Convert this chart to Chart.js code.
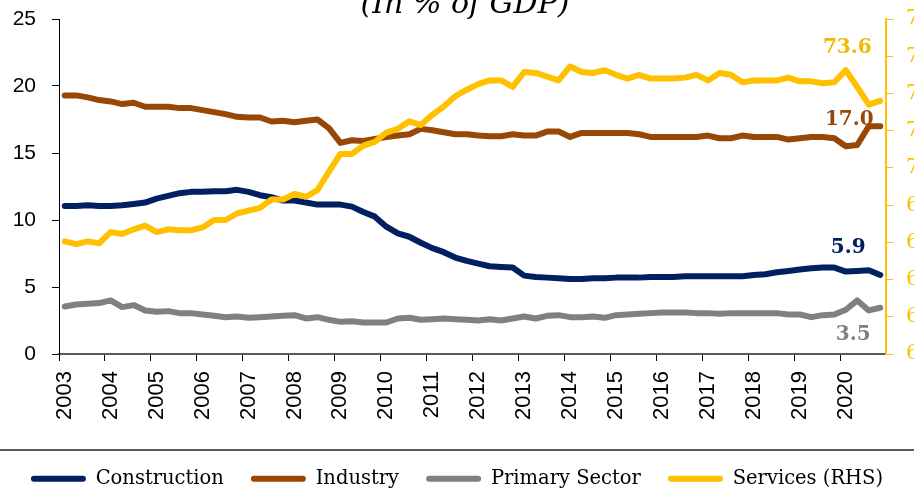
<!DOCTYPE html>
<html>
<head>
<meta charset="utf-8">
<script src="https://cdn.jsdelivr.net/npm/chart.js@4.4.1/dist/chart.umd.min.js"></script>
<style>
  html, body { margin: 0; padding: 0; background: #fff; overflow: hidden; }
  #wrap { position: relative; width: 914px; height: 495px; overflow: hidden; }
  #title { position: absolute; left: 0; top: -12px; width: 930px; text-align: center;
           font: italic 30px 'DejaVu Serif', serif; line-height: 1; color: #000; }
  canvas { position: absolute; left: 0; top: 0; }
</style>
</head>
<body>
<div id="wrap">
  <canvas id="chart" width="914" height="495"></canvas>
  <div id="title">(In % of GDP)</div>
</div>
<script>
// Années et trimestres (données trimestrielles 2003-2020)
const years = [2003, 2004, 2005, 2006, 2007, 2008, 2009, 2010, 2011, 2012,
               2013, 2014, 2015, 2016, 2017, 2018, 2019, 2020];
const quarters = ['Q1', 'Q2', 'Q3', 'Q4'];
const categories = years.flatMap(y => quarters.map(q => y + ' ' + q));
const yearTicks = years.map(String);

// Séries (% du PIB)
const construction = [
  11.05, 11.05, 11.1, 11.05, 11.05, 11.1, 11.2, 11.3, 11.6, 11.8,
  12.0, 12.1, 12.1, 12.15, 12.15, 12.25, 12.1, 11.85, 11.7, 11.45,
  11.45, 11.3, 11.15, 11.15, 11.15, 11.0, 10.6, 10.25, 9.5, 9.0,
  8.75, 8.3, 7.9, 7.6, 7.2, 6.95, 6.75, 6.55,
  6.5, 6.45, 5.85, 5.75, 5.7, 5.65, 5.6, 5.6, 5.65, 5.65,
  5.7, 5.7, 5.7, 5.75, 5.75, 5.75, 5.8, 5.8, 5.8, 5.8,
  5.8, 5.8, 5.9, 5.95, 6.1, 6.2, 6.3, 6.4, 6.45, 6.45,
  6.15, 6.2, 6.25, 5.9
];
const industry = [
  19.3, 19.3, 19.15, 18.95, 18.85, 18.65, 18.75, 18.45, 18.45, 18.45,
  18.35, 18.35, 18.2, 18.05, 17.9, 17.7, 17.65, 17.65, 17.35, 17.4,
  17.3, 17.4, 17.5, 16.85, 15.75, 15.95, 15.9, 16.05, 16.2, 16.3,
  16.4, 16.8, 16.7, 16.55, 16.4, 16.4, 16.3, 16.25,
  16.25, 16.4, 16.3, 16.3, 16.6, 16.6, 16.2, 16.5, 16.5, 16.5,
  16.5, 16.5, 16.4, 16.2, 16.2, 16.2, 16.2, 16.2, 16.3, 16.1,
  16.1, 16.3, 16.2, 16.2, 16.2, 16.0, 16.1, 16.2, 16.2, 16.1,
  15.5, 15.6, 17.0, 17.0
];
const primary = [
  3.55, 3.7, 3.75, 3.8, 4.0, 3.5, 3.65, 3.25, 3.15, 3.2,
  3.05, 3.05, 2.95, 2.85, 2.75, 2.8, 2.7, 2.75, 2.8, 2.85,
  2.9, 2.65, 2.75, 2.55, 2.4, 2.45, 2.35, 2.35, 2.35, 2.65,
  2.7, 2.55, 2.6, 2.65, 2.6, 2.55, 2.5, 2.6,
  2.5, 2.65, 2.8, 2.65, 2.85, 2.9, 2.75, 2.75, 2.8, 2.7,
  2.9, 2.95, 3.0, 3.05, 3.1, 3.1, 3.1, 3.05, 3.05, 3.0,
  3.05, 3.05, 3.05, 3.05, 3.05, 2.95, 2.95, 2.75, 2.9, 2.95,
  3.3, 4.0, 3.25, 3.45
];
const services = [
  66.05, 65.9, 66.05, 65.95, 66.55, 66.45, 66.7, 66.9, 66.55, 66.7,
  66.65, 66.65, 66.8, 67.2, 67.2, 67.55, 67.7, 67.85, 68.3, 68.3,
  68.6, 68.45, 68.8, 69.8, 70.75, 70.75, 71.2, 71.4, 71.9, 72.1,
  72.5, 72.3, 72.85, 73.3, 73.85, 74.2, 74.5, 74.7,
  74.7, 74.35, 75.15, 75.1, 74.9, 74.7, 75.45, 75.15, 75.1, 75.25,
  75.0, 74.8, 75.0, 74.8, 74.8, 74.8, 74.85, 75.0, 74.7, 75.1,
  75.0, 74.6, 74.7, 74.7, 74.7, 74.85, 74.65, 74.65, 74.55, 74.6,
  75.25, 74.35, 73.4, 73.6
];

const seriesNames = ['Construction', 'Industry', 'Primary Sector', 'Services (RHS)'];
const colors = ['#002060', '#974706', '#808080', '#FFC000'];
const labelColors = ['#002060', '#974706', '#808080', '#F5B800'];
// décalage des étiquettes de fin de série (x, y)
const labelOffsets = [[-32, -27], [-31, -6], [-27, 27], [-33, -53]];

// étiquettes de la dernière valeur
const endLabels = {
  id: 'endLabels',
  beforeDatasetsDraw(chart) {
    const ctx = chart.ctx;
    ctx.save();
    ctx.font = 'bold 20px "DejaVu Serif", serif';
    ctx.textAlign = 'center';
    ctx.textBaseline = 'middle';
    chart.data.datasets.forEach((ds, i) => {
      const pts = chart.getDatasetMeta(i).data;
      const p = pts[pts.length - 1];
      ctx.fillStyle = labelColors[i];
      ctx.fillText(ds.data[ds.data.length - 1].toFixed(1), p.x + labelOffsets[i][0], p.y + labelOffsets[i][1]);
    });
    ctx.restore();
  }
};

// trait horizontal au-dessus de la légende
const legendRule = {
  id: 'legendRule',
  afterDraw(chart) {
    const ctx = chart.ctx;
    ctx.save();
    ctx.strokeStyle = '#5a5a5a';
    ctx.lineWidth = 2;
    ctx.beginPath();
    ctx.moveTo(0, 450);
    ctx.lineTo(chart.width, 450);
    ctx.stroke();
    ctx.restore();
  }
};

// largeur / hauteur fixes des axes
const fixAxis = size => s => {
  if (s.isHorizontal()) { s.height = size; s.paddingLeft = 0; s.paddingRight = 0; }
  else { s.width = size; s.paddingTop = 0; s.paddingBottom = 0; }
};

const serieData = [construction, industry, primary, services];

new Chart(document.getElementById('chart'), {
  type: 'line',
  data: {
    labels: categories,
    datasets: serieData.map((d, i) => ({
      label: seriesNames[i],
      data: d,
      borderColor: colors[i],
      backgroundColor: colors[i],
      borderWidth: 6,
      pointRadius: 0,
      tension: 0,
      borderJoinStyle: 'round',
      borderCapStyle: 'round',
      yAxisID: i === 3 ? 'y1' : 'y',
      order: 4 - i
    }))
  },
  options: {
    responsive: false,
    animation: false,
    layout: { padding: { top: 19, left: 0, right: 0, bottom: 0 } },
    plugins: {
      title: { display: false },
      tooltip: { enabled: false },
      legend: {
        position: 'bottom',
        maxHeight: 53,
        labels: {
          boxWidth: 55,
          boxHeight: 6,
          useBorderRadius: true,
          borderRadius: 3,
          padding: 27,
          color: '#000',
          font: { family: '"DejaVu Serif", serif', size: 19.5 },
          generateLabels: chart => chart.data.datasets.map((ds, i) => ({
            text: ds.label,
            fillStyle: colors[i],
            strokeStyle: colors[i],
            lineWidth: 0,
            borderRadius: 3,
            datasetIndex: i,
            hidden: false
          }))
        }
      }
    },
    scales: {
      x: {
        offset: true,
        afterFit: fixAxis(88),
        border: { color: '#5a5a5a', width: 2 },
        grid: {
          offset: true,
          drawOnChartArea: false,
          tickLength: 7,
          color: c => (c.index % 4 === 0 ? '#000' : 'rgba(0,0,0,0)')
        },
        ticks: {
          autoSkip: false,
          minRotation: 90,
          maxRotation: 90,
          padding: 10,
          color: '#000',
          font: { family: '"Liberation Sans", Arial, sans-serif', size: 22 },
          callback: (v, i) => (i % 4 === 0 ? yearTicks[i / 4] : '')
        }
      },
      y: {
        position: 'left',
        min: 0,
        max: 25,
        afterFit: fixAxis(59),
        border: { color: '#000', width: 1 },
        grid: { drawOnChartArea: false, tickLength: 7, color: '#000' },
        ticks: {
          stepSize: 5,
          padding: 16,
          color: '#000',
          font: { family: '"Liberation Sans", Arial, sans-serif', size: 21 }
        }
      },
      y1: {
        position: 'right',
        min: 60,
        max: 78,
        afterFit: fixAxis(28),
        border: { color: '#FFC000', width: 2 },
        grid: { drawOnChartArea: false, tickLength: 7, color: '#FFC000' },
        ticks: {
          stepSize: 2,
          padding: 13,
          color: '#FFC000',
          font: { family: '"DejaVu Serif", serif', size: 21 }
        }
      }
    }
  },
  plugins: [endLabels, legendRule]
});
</script>
</body>
</html>
